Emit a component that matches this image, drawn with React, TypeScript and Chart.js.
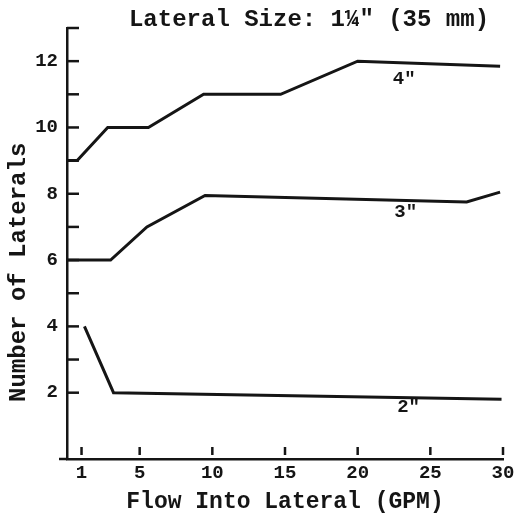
import { useEffect, useRef } from "react";
import { Chart, registerables } from "chart.js";

Chart.register(...registerables);

// ---- data ----
const flowTicks = [1, 5, 10, 15, 20, 25, 30];
const yTickMarks = [2, 3, 4, 5, 6, 7, 8, 9, 10, 11, 12, 13];
const yTickLabels = [2, 4, 6, 8, 10, 12];

const flow4 = [0, 0.7, 2.8, 5.6, 9.4, 14.7, 20, 29.8];
const laterals4 = [9, 9, 10, 10, 11, 11, 12, 11.85];
const flow3 = [0, 3, 5.5, 9.5, 27.5, 29.8];
const laterals3 = [6, 6, 7, 7.95, 7.75, 8.05];
const flow2 = [1.2, 3.2, 29.9];
const laterals2 = [4, 2, 1.8];

const seriesNames = ['4"', '3"', '2"'];
const labelFlow = [23.2, 23.3, 23.5];
const labelLaterals = [11.45, 7.45, 1.55];

const titleText = 'Lateral Size: 1\u00BC" (35 mm)';
const xTitle = "Flow Into Lateral (GPM)";
const yTitle = "Number of Laterals    ";

const INK = "#151515";
const FONT = "'Liberation Mono', 'Courier New', monospace";

const toPoints = (xs: number[], ys: number[]) => xs.map((x, i) => ({ x, y: ys[i] }));

const inkPlugin = {
  id: "ink",
  afterDraw(chart: any) {
    const ctx = chart.ctx as CanvasRenderingContext2D;
    const xs = chart.scales.x;
    const ys = chart.scales.y;
    const area = chart.chartArea;
    ctx.save();
    ctx.strokeStyle = INK;
    ctx.fillStyle = INK;
    // extend x axis line left of y axis
    ctx.lineWidth = 2.5;
    ctx.beginPath();
    ctx.moveTo(area.left - 8, area.bottom);
    ctx.lineTo(area.left, area.bottom);
    ctx.stroke();
    // inward x tick marks
    flowTicks.forEach((v) => {
      const px = xs.getPixelForValue(v);
      ctx.beginPath();
      ctx.moveTo(px, area.bottom - 4);
      ctx.lineTo(px, area.bottom - 12);
      ctx.stroke();
    });
    // inward y tick marks
    yTickMarks.forEach((v) => {
      const py = ys.getPixelForValue(v);
      ctx.beginPath();
      ctx.moveTo(area.left, py);
      ctx.lineTo(area.left + 12, py);
      ctx.stroke();
    });
    // series labels
    ctx.font = `bold 19px ${FONT}`;
    ctx.textAlign = "center";
    ctx.textBaseline = "middle";
    seriesNames.forEach((name, i) => {
      ctx.fillText(name, xs.getPixelForValue(labelFlow[i]), ys.getPixelForValue(labelLaterals[i]));
    });
    // title
    ctx.font = `bold 24px ${FONT}`;
    ctx.fillText(titleText, 309, 20);
    ctx.restore();
  },
};

export default function App() {
  const ref = useRef<HTMLCanvasElement | null>(null);

  useEffect(() => {
    if (!ref.current) return;
    const lineStyle = {
      borderColor: INK,
      borderWidth: 3,
      pointRadius: 0,
      tension: 0,
      fill: false,
      showLine: true,
    };
    const chart = new Chart(ref.current, {
      type: "line",
      data: {
        datasets: [
          { label: seriesNames[0], data: toPoints(flow4, laterals4), ...lineStyle },
          { label: seriesNames[1], data: toPoints(flow3, laterals3), ...lineStyle },
          { label: seriesNames[2], data: toPoints(flow2, laterals2), ...lineStyle },
        ],
      },
      options: {
        animation: false,
        responsive: false,
        layout: { padding: { top: 28, right: 17, left: 0, bottom: 0 } },
        plugins: { legend: { display: false }, tooltip: { enabled: false }, title: { display: false } },
        scales: {
          x: {
            type: "linear",
            min: 0,
            max: 30,
            afterBuildTicks: (s: any) => {
              s.ticks = flowTicks.map((v) => ({ value: v }));
            },
            afterFit: (s: any) => {
              s.height = 62;
            },
            grid: { display: false, drawTicks: false },
            border: { display: true, color: INK, width: 2.5 },
            ticks: {
              autoSkip: false,
              maxRotation: 0,
              padding: 3,
              color: INK,
              font: { family: FONT, size: 19, weight: "bold" },
            },
            title: {
              display: true,
              text: xTitle,
              color: INK,
              font: { family: FONT, size: 23, weight: "bold" },
              padding: { top: 0, bottom: 5 },
            },
          },
          y: {
            type: "linear",
            min: 0,
            max: 13,
            afterBuildTicks: (s: any) => {
              s.ticks = yTickMarks.map((v) => ({ value: v }));
            },
            afterFit: (s: any) => {
              s.width = 67;
            },
            grid: { display: false, drawTicks: false },
            border: { display: true, color: INK, width: 2.5 },
            ticks: {
              autoSkip: false,
              padding: 9,
              color: INK,
              font: { family: FONT, size: 19, weight: "bold" },
              callback: (v: any) => (yTickLabels.includes(Number(v)) ? String(v) : ""),
            },
            title: {
              display: true,
              text: yTitle,
              color: INK,
              font: { family: FONT, size: 24, weight: "bold" },
              padding: { top: 5, bottom: 0 },
            },
          },
        },
      },
      plugins: [inkPlugin],
    } as any);
    return () => chart.destroy();
  }, []);

  return (
    <div style={{ position: "absolute", left: 0, top: 0, width: 520, height: 521, background: "#fff" }}>
      <canvas ref={ref} width={520} height={521} />
    </div>
  );
}
